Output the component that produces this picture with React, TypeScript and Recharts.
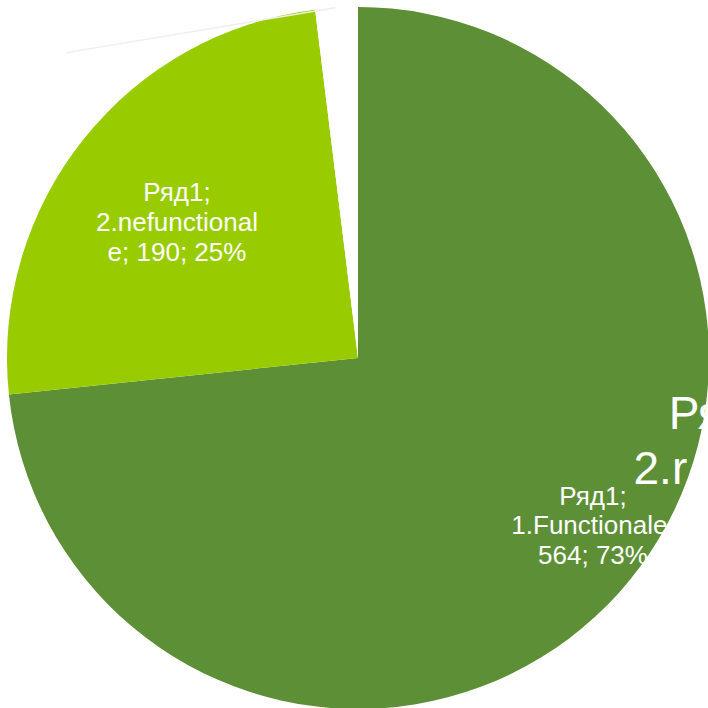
import { PieChart, Pie, Cell } from 'recharts';

const categories = ['1.Functionale', '2.nefunctionale', '3.r'];
const values = [564, 190, 15];
const percents = ['73%', '25%', '2%'];
const seriesName = 'Ряд1';
const colors = ['#5D8F36', '#99CC00', '#FFFFFF'];

const data = categories.map((name, i) => ({ name, value: values[i] }));

// label centres, as offsets from the pie centre (Excel put them by hand)
const labelOffsets = [
  [235, 167],
  [-181, -136],
];

function renderLabel(props: any) {
  const { cx, cy, outerRadius, index } = props;
  const font = 'Liberation Sans, Arial, sans-serif';
  if (index === 2) {
    // the odd, oversized label of the thin slice, pushed to the right edge
    return (
      <g>
        <line
          x1={cx - outerRadius * 0.83}
          y1={cy - outerRadius * 0.87}
          x2={cx - outerRadius * 0.065}
          y2={cy - outerRadius * 0.998}
          stroke="#EEEEEE"
          strokeWidth={1.5}
        />
        <text fill="#fff" fontFamily={font} fontSize={46} textAnchor="start">
          <tspan x={cx + outerRadius * 0.885} y={cy + 71}>{seriesName};</tspan>
          <tspan x={cx + outerRadius * 0.785} y={cy + 126}>2.r{categories[2].slice(3)}</tspan>
        </text>
      </g>
    );
  }
  const x = cx + labelOffsets[index][0];
  const y = cy + labelOffsets[index][1];
  const lines =
    index === 0
      ? [`${seriesName};`, `${categories[0]};`, `${values[0]}; ${percents[0]}`]
      : [`${seriesName};`, '2.nefunctional', `e; ${values[1]}; ${percents[1]}`];
  const step = index === 0 ? 29.5 : 30;
  return (
    <text fill="#fff" fontFamily={font} fontSize={26} textAnchor="middle">
      {lines.map((l, i) => (
        <tspan key={i} x={x} y={y + (i - 1) * step + 9}>
          {l}
        </tspan>
      ))}
    </text>
  );
}

export default function App() {
  return (
    <div style={{ position: 'absolute', left: 0, top: 0, width: 708, height: 708, background: '#fff' }}>
      <PieChart width={708} height={708} margin={{ top: 0, right: 0, bottom: 0, left: 0 }}>
        <Pie
          data={data}
          dataKey="value"
          nameKey="name"
          cx={358}
          cy={358}
          outerRadius={351}
          startAngle={90}
          endAngle={-270}
          stroke="none"
          label={renderLabel}
          labelLine={false}
          isAnimationActive={false}
        >
          {data.map((d, i) => (
            <Cell key={d.name} fill={colors[i]} />
          ))}
        </Pie>
      </PieChart>
    </div>
  );
}
